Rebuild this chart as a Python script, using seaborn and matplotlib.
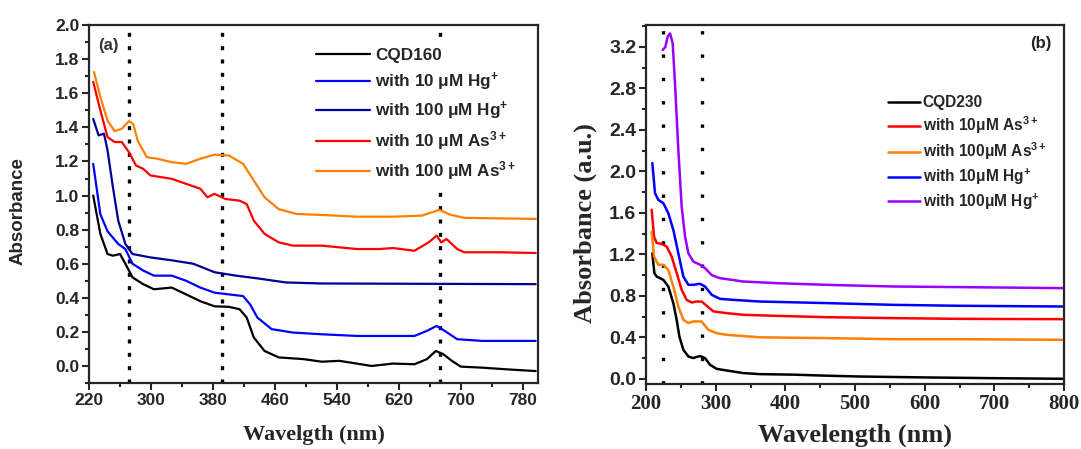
import matplotlib
matplotlib.use("Agg")
import matplotlib.pyplot as plt
import seaborn as sns
from matplotlib.ticker import MultipleLocator, FixedLocator, FormatStrFormatter

# ---------------- data: panel (a) ----------------
a_labels = ["CQD160", "with 10 μM Hg$^{+}$", "with 100 μM Hg$^{+}$",
            "with 10 μM As$^{3+}$", "with 100 μM As$^{3+}$"]
a_colors = ["#000000", "#0000FF", "#000099", "#FF0000", "#FF8000"]
a_xticks = [220, 300, 380, 460, 540, 620, 700, 780]

a_cqd_x = [225.5, 234.7, 244, 250.9, 260.1, 267, 276.2, 290, 303.9, 326.9, 345.4, 363.8, 382.2,
           400.7, 414.5, 423.7, 432.9, 446.8, 465.2, 497.5, 520.5, 543.6, 585, 612.7, 640.3,
           656.5, 668, 677.2, 688.7, 700.3, 727.9, 760.2, 797]
a_cqd_y = [1.00, 0.775, 0.657, 0.647, 0.657, 0.60, 0.52, 0.48, 0.45, 0.46, 0.42, 0.38, 0.35,
           0.347, 0.333, 0.284, 0.167, 0.088, 0.05, 0.04, 0.025, 0.03, 0.0, 0.014, 0.01,
           0.04, 0.088, 0.07, 0.03, -0.004, -0.01, -0.02, -0.03]

a_hg10_x = [225.5, 234.7, 244, 257.8, 267, 276.2, 290, 303.9, 326.9, 345.4, 363.8, 382.2, 400.7,
            419.1, 428.3, 437.5, 456, 483.6, 520.5, 566.6, 612.7, 640.3, 656.5, 669, 679.5,
            695.6, 727.9, 797]
a_hg10_y = [1.186, 0.89, 0.79, 0.716, 0.686, 0.60, 0.56, 0.53, 0.53, 0.50, 0.46, 0.43, 0.42,
            0.41, 0.36, 0.284, 0.216, 0.196, 0.186, 0.176, 0.176, 0.176, 0.206, 0.235, 0.206,
            0.157, 0.147, 0.147]

a_hg100_x = [225.5, 232.4, 239.4, 244, 250.9, 257.8, 267, 276.2, 299.3, 326.9, 354.6, 382.2,
             409.9, 437.5, 474.4, 520.5, 797]
a_hg100_y = [1.45, 1.353, 1.363, 1.265, 1.05, 0.853, 0.716, 0.657, 0.637, 0.62, 0.60, 0.55,
             0.53, 0.514, 0.49, 0.484, 0.48]

a_as10_x = [225.5, 234.7, 244, 253.2, 262.4, 271.6, 280.8, 290, 299.3, 313.1, 326.9, 345.4,
            363.8, 373, 382.2, 396, 414.5, 423.7, 432.9, 446.8, 465.2, 483.6, 520.5, 566.6,
            594.3, 612.7, 640.3, 658.8, 669, 674.9, 681.8, 695.6, 704.9, 751, 797]
a_as10_y = [1.667, 1.5, 1.343, 1.314, 1.314, 1.255, 1.176, 1.157, 1.118, 1.108, 1.098, 1.069,
            1.04, 0.99, 1.01, 0.98, 0.97, 0.95, 0.853, 0.775, 0.725, 0.706, 0.706, 0.686,
            0.686, 0.692, 0.676, 0.725, 0.765, 0.725, 0.745, 0.686, 0.667, 0.667, 0.663]

a_as100_x = [226.5, 234.7, 244, 253.2, 262.4, 271.6, 277.2, 283.1, 294.7, 308.5, 326.9, 345.4,
             363.8, 382.2, 400.7, 419.1, 432.9, 446.8, 465.2, 488.2, 520.5, 566.6, 612.7,
             649.6, 672.6, 686.4, 704.9, 797]
a_as100_y = [1.725, 1.578, 1.44, 1.378, 1.392, 1.437, 1.42, 1.32, 1.225, 1.216, 1.196, 1.186,
             1.216, 1.24, 1.235, 1.186, 1.088, 0.99, 0.92, 0.892, 0.886, 0.876, 0.876,
             0.882, 0.916, 0.888, 0.869, 0.863]

a_guides = [272, 392, 674]

# ---------------- data: panel (b) ----------------
b_labels = ["CQD230", "with 10μM As$^{3+}$", "with 100μM As$^{3+}$",
            "with 10μM Hg$^{+}$", "with 100μM Hg$^{+}$"]
b_colors = ["#000000", "#FF0000", "#FF8000", "#0000FF", "#9900FF"]

b_cqd_x = [209.1, 212, 215.3, 220.1, 224.9, 232, 239.2, 244, 247.9, 253.6, 260.8, 267.9, 277.5,
           284.7, 291.9, 301.4, 315.8, 339.7, 363.6, 411.5, 459.3, 507.2, 602.9, 698.6, 800]
b_cqd_y = [1.21, 1.02, 0.986, 0.97, 0.954, 0.89, 0.73, 0.57, 0.408, 0.28, 0.215, 0.20, 0.22,
           0.20, 0.135, 0.096, 0.08, 0.055, 0.045, 0.04, 0.03, 0.022, 0.013, 0.006, 0.0]

b_as10_x = [208.1, 211.5, 215.3, 222.5, 229.7, 236.8, 244, 251.2, 258.4, 265.6, 272.7, 279.9,
            287.1, 296.7, 315.8, 339.7, 387.6, 459.3, 555, 650.7, 800]
b_as10_y = [1.63, 1.37, 1.31, 1.30, 1.275, 1.18, 1.02, 0.858, 0.76, 0.736, 0.745, 0.745,
            0.704, 0.65, 0.633, 0.617, 0.607, 0.594, 0.585, 0.578, 0.575]

b_as100_x = [208.1, 211.5, 217.7, 224.9, 232, 239.2, 246.4, 253.6, 260.8, 267.9, 279.9, 289.5,
             301.4, 315.8, 363.6, 459.3, 555, 650.7, 800]
b_as100_y = [1.42, 1.18, 1.10, 1.10, 1.05, 0.89, 0.697, 0.57, 0.537, 0.553, 0.553, 0.472,
             0.44, 0.424, 0.40, 0.392, 0.382, 0.382, 0.376]

b_hg10_x = [209.1, 212.9, 217.7, 224.9, 232, 239.2, 246.4, 253.6, 260.8, 267.9, 277.5, 284.7,
            294.3, 306.2, 325.4, 363.6, 459.3, 555, 650.7, 800]
b_hg10_y = [2.08, 1.79, 1.725, 1.693, 1.597, 1.436, 1.21, 0.986, 0.906, 0.906, 0.916, 0.89,
            0.81, 0.771, 0.761, 0.745, 0.73, 0.713, 0.704, 0.697]

b_hg100_x = [223.9, 227.8, 231.1, 234.5, 238.3, 241.6, 246.4, 251.2, 256, 260.8, 267.9, 277.5,
             284.7, 294.3, 306.2, 339.7, 387.6, 459.3, 555, 650.7, 800]
b_hg100_y = [3.17, 3.20, 3.30, 3.33, 3.235, 2.85, 2.207, 1.66, 1.372, 1.21, 1.13, 1.10,
             1.067, 1.0, 0.97, 0.938, 0.922, 0.906, 0.89, 0.884, 0.874]

b_guides = [225, 280]

# ---------------- style ----------------
sns.set_style("ticks")
plt.rcParams['font.family'] = ['Liberation Sans', 'DejaVu Sans']
plt.rcParams['font.weight'] = 'bold'
plt.rcParams['axes.labelweight'] = 'bold'
plt.rcParams['mathtext.fontset'] = 'custom'
plt.rcParams['mathtext.rm'] = 'Liberation Sans:bold'
plt.rcParams['mathtext.it'] = 'Liberation Sans:bold'
plt.rcParams['mathtext.bf'] = 'Liberation Sans:bold'

fig = plt.figure(figsize=(10.81, 4.49), dpi=100)
axA = fig.add_axes([0.0823, 0.147, 0.4154, 0.797])
axB = fig.add_axes([0.5976, 0.1448, 0.3867, 0.7992])

# ---------------- panel (a) ----------------
a_series = [(a_cqd_x, a_cqd_y), (a_hg10_x, a_hg10_y), (a_hg100_x, a_hg100_y),
            (a_as10_x, a_as10_y), (a_as100_x, a_as100_y)]
for (xs, ys), lab, col in zip(a_series, a_labels, a_colors):
    sns.lineplot(x=xs, y=ys, ax=axA, color=col, lw=1.6, label=lab, sort=False)
for g in a_guides:
    axA.axvline(g, color='black', lw=2.4, ls=(0, (1.2, 2.8)), zorder=1)

axA.set_xlim(220, 800)
axA.set_ylim(-0.1, 2.0)
axA.xaxis.set_major_locator(FixedLocator(a_xticks))
axA.xaxis.set_minor_locator(FixedLocator([t + 40 for t in a_xticks]))
axA.yaxis.set_major_locator(MultipleLocator(0.2))
axA.yaxis.set_minor_locator(MultipleLocator(0.1))
axA.yaxis.set_major_formatter(FormatStrFormatter('%.1f'))
axA.tick_params(which='major', direction='out', length=5, width=1.5, labelsize=12.5, pad=2)
axA.tick_params(which='minor', direction='out', length=3, width=1.5)
for sp in axA.spines.values():
    sp.set_linewidth(1.6)
axA.set_ylabel("Absorbance", fontsize=13.5, fontfamily='Liberation Sans', va='center')
axA.set_xlabel("Wavelgth (nm)", fontsize=16, fontfamily='Liberation Serif', va='center')
axA.yaxis.set_label_coords(-0.158, 0.48)
axA.xaxis.set_label_coords(0.5, -0.145)
axA.text(0.02, 0.944, "(a)", transform=axA.transAxes, fontsize=12, color='#333333',
         va='center', ha='left')
legA = axA.legend(loc='upper left', bbox_to_anchor=(0.49, 0.955), fontsize=12.3,
                  frameon=True, handlelength=3.2, handletextpad=0.25, labelspacing=0.42,
                  borderpad=0.4, borderaxespad=0)
legA.get_frame().set_facecolor('white')
legA.get_frame().set_edgecolor('none')
legA.get_frame().set_alpha(1)
legA.set_zorder(5)

# ---------------- panel (b) ----------------
b_series = [(b_cqd_x, b_cqd_y), (b_as10_x, b_as10_y), (b_as100_x, b_as100_y),
            (b_hg10_x, b_hg10_y), (b_hg100_x, b_hg100_y)]
for (xs, ys), lab, col in zip(b_series, b_labels, b_colors):
    sns.lineplot(x=xs, y=ys, ax=axB, color=col, lw=1.8, label=lab, sort=False)
for g in b_guides:
    axB.axvline(g, color='black', lw=2.4, ls=(0, (1, 6)), zorder=1)

axB.set_xlim(200, 800)
axB.set_ylim(-0.05, 3.41)
axB.xaxis.set_major_locator(MultipleLocator(100))
axB.xaxis.set_minor_locator(MultipleLocator(50))
axB.yaxis.set_major_locator(MultipleLocator(0.4))
axB.yaxis.set_minor_locator(MultipleLocator(0.2))
axB.yaxis.set_major_formatter(FormatStrFormatter('%.1f'))
axB.tick_params(which='major', direction='out', length=5, width=1.5, pad=2)
axB.tick_params(which='minor', direction='out', length=3, width=1.5)
axB.tick_params(axis='y', labelsize=14)
axB.tick_params(axis='x', labelsize=15, labelfontfamily='Liberation Serif')
for sp in axB.spines.values():
    sp.set_linewidth(1.6)
axB.set_ylabel("Absorbance (a.u.)", fontsize=19, fontfamily='Liberation Serif', va='center')
axB.set_xlabel("Wavelength (nm)", fontsize=19, fontfamily='Liberation Serif', va='center')
axB.yaxis.set_label_coords(-0.146, 0.448)
axB.xaxis.set_label_coords(0.5, -0.142)
axB.text(0.919, 0.95, "(b)", transform=axB.transAxes, fontsize=12, color='#222222',
         va='center', ha='left')
legB = axB.legend(loc='upper left', bbox_to_anchor=(0.565, 0.822), fontsize=11.2,
                  frameon=False, handlelength=2.0, handletextpad=0.2, labelspacing=0.28,
                  borderpad=0.4, borderaxespad=0)

fig.savefig("out.png", dpi=100)
